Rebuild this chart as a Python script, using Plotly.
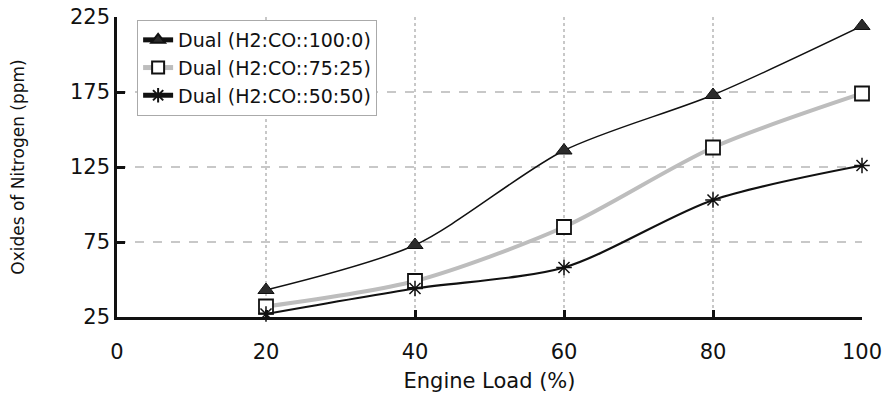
import plotly.graph_objects as go

loads = [20, 40, 60, 80, 100]
nox_100_0 = [43, 73, 136, 173, 219]
nox_75_25 = [32, 49, 85, 138, 174]
nox_50_50 = [27, 44, 58, 103, 126]
names = ["Dual (H2:CO::100:0)", "Dual (H2:CO::75:25)", "Dual (H2:CO::50:50)"]
x_ticks = [0, 20, 40, 60, 80, 100]
y_ticks = [25, 75, 125, 175, 225]

FONT = "DejaVu Sans"

fig = go.Figure()
fig.add_trace(go.Scatter(
    x=loads, y=nox_100_0, name=names[0], mode="lines+markers", cliponaxis=False,
    line=dict(color="#111111", width=1.5, shape="spline", smoothing=0.8),
    marker=dict(symbol="triangle-up", size=14, color="#2b2b2b",
                line=dict(color="#111111", width=1))))
fig.add_trace(go.Scatter(
    x=loads, y=nox_75_25, name=names[1], mode="lines+markers", cliponaxis=False,
    line=dict(color="#bdbdbd", width=4, shape="spline", smoothing=0.8),
    marker=dict(symbol="square", size=14, color="white",
                line=dict(color="#111111", width=1.8))))
fig.add_trace(go.Scatter(
    x=loads, y=nox_50_50, name=names[2], mode="lines+markers", cliponaxis=False,
    line=dict(color="#111111", width=2.2, shape="spline", smoothing=0.8),
    marker=dict(symbol="asterisk-open", size=13,
                line=dict(color="#111111", width=1.5))))

fig.update_layout(
    width=889, height=394,
    margin=dict(l=117, r=27, t=17, b=77, autoexpand=False),
    paper_bgcolor="white", plot_bgcolor="white",
    font=dict(family=FONT, color="#111111"),
    showlegend=True,
    legend=dict(
        x=0.027, y=0.99, xanchor="left", yanchor="top",
        bgcolor="white", bordercolor="#aaaaaa", borderwidth=1,
        font=dict(family=FONT, size=19, color="#111111"),
        tracegroupgap=0, itemsizing="constant",
        entrywidth=250, entrywidthmode="pixels",
    ),
    xaxis=dict(
        range=[0, 100], tickvals=x_ticks, ticktext=[str(v) for v in x_ticks],
        automargin=False,
        showline=True, linecolor="#111111", linewidth=2.5,
        ticks="inside", ticklen=7, tickwidth=2.5, tickcolor="#111111",
        ticklabelstandoff=14,
        showgrid=True, gridcolor="#c8c8c8", gridwidth=1.5, griddash="dot",
        zeroline=False,
        tickfont=dict(family=FONT, size=21, color="#111111"),
        title=dict(text="Engine Load (%)", font=dict(family=FONT, size=21),
                   standoff=11),
    ),
    yaxis=dict(
        range=[25, 225], tickvals=y_ticks, ticktext=[str(v) for v in y_ticks],
        automargin=False,
        showline=True, linecolor="#111111", linewidth=2.5,
        ticks="inside", ticklen=8, tickwidth=2.5, tickcolor="#111111",
        showgrid=True, gridcolor="#c8c8c8", gridwidth=1.5, griddash="dash",
        zeroline=False,
        tickfont=dict(family=FONT, size=21, color="#111111"),
        title=dict(text="Oxides of Nitrogen (ppm)", font=dict(family=FONT, size=17),
                   standoff=42),
    ),
)

fig.write_html("out.html")
